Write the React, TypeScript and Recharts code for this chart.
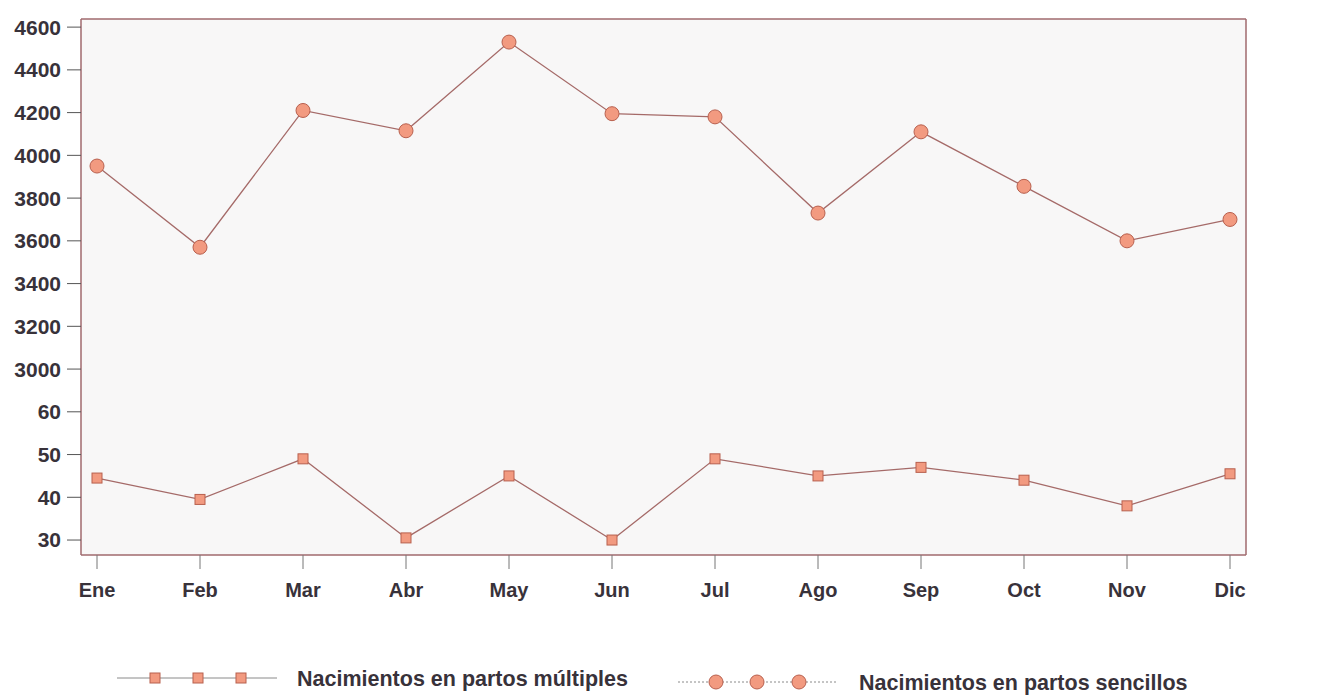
import React from 'react';
import { LineChart, Line, XAxis, YAxis, CartesianGrid, ReferenceLine } from 'recharts';

const months = ['Ene', 'Feb', 'Mar', 'Abr', 'May', 'Jun', 'Jul', 'Ago', 'Sep', 'Oct', 'Nov', 'Dic'];
const partosMultiples = [44.5, 39.5, 49, 30.5, 45, 30, 49, 45, 47, 44, 38, 45.5];
const partosSencillos = [3950, 3570, 4210, 4115, 4530, 4195, 4180, 3730, 4110, 3855, 3600, 3700];
const yTickLabels = ['30', '40', '50', '60', '3000', '3200', '3400', '3600', '3800', '4000', '4200', '4400', '4600'];

// broken axis: 30..60 (step 10) below, 3000..4600 (step 200) above, equal tick spacing
const toAxis = (v: number) => (v < 1000 ? (v - 30) / 10 : 4 + (v - 3000) / 200);

const data = months.map((m, i) => ({
  month: m,
  multiples: toAxis(partosMultiples[i]),
  sencillos: toAxis(partosSencillos[i]),
}));

const yTicks = yTickLabels.map((_, i) => i);
const Y_MAX = 12.19;

const FRAME = '#a06a6e';
const LINE = '#a56a68';
const FILL = '#f29a80';
const MSTROKE = '#b8604e';
const TEXT = '#38323a';
const FONT = '"Liberation Sans", Arial, Helvetica, sans-serif';

const SquareDot = (props: any) => {
  const { cx, cy, index } = props;
  if (cx == null || cy == null) return <g key={`s${index}`} />;
  return (
    <rect key={`s${index}`} x={cx - 5} y={cy - 5} width={10} height={10} fill={FILL} stroke={MSTROKE} strokeWidth={1} />
  );
};

export default function App() {
  const tickStyle = { fontFamily: FONT, fontWeight: 700, fontSize: 21, fill: TEXT };
  return (
    <div style={{ position: 'relative', width: 1315, height: 687 }}>
      <LineChart width={1315} height={687} data={data} margin={{ top: 11, right: 0, left: 0, bottom: 80 }}>
        <CartesianGrid horizontal={false} vertical={false} fill="#f8f7f7" stroke="none" />
        <XAxis
          dataKey="month"
          padding={{ left: 16, right: 16 }}
          height={60}
          axisLine={{ stroke: FRAME, strokeWidth: 1.5 }}
          tickLine={{ stroke: '#777' }}
          tickSize={14}
          tickMargin={14}
          tick={{ fontFamily: FONT, fontWeight: 700, fontSize: 20, fill: TEXT }}
          interval={0}
        />
        <YAxis
          yAxisId="left"
          orientation="left"
          width={73}
          domain={[-0.35, Y_MAX]}
          ticks={yTicks}
          interval={0}
          tickFormatter={(v: number) => yTickLabels[v]}
          axisLine={{ stroke: FRAME, strokeWidth: 1.5 }}
          tickLine={{ stroke: '#555' }}
          tickSize={14}
          tickMargin={6}
          tick={tickStyle}
        />
        <YAxis
          yAxisId="right"
          orientation="right"
          width={77}
          domain={[-0.35, Y_MAX]}
          ticks={yTicks}
          interval={0}
          tickFormatter={(v: number) => yTickLabels[v]}
          axisLine={{ stroke: FRAME, strokeWidth: 1.5 }}
          tickLine={{ stroke: '#555' }}
          tickSize={15}
          tickMargin={6}
          tick={tickStyle}
        />
        <ReferenceLine yAxisId="left" y={Y_MAX} stroke={FRAME} strokeWidth={1.5} />
        <Line
          yAxisId="left"
          type="linear"
          dataKey="sencillos"
          stroke={LINE}
          strokeWidth={1.3}
          dot={{ r: 7, fill: FILL, stroke: MSTROKE, strokeWidth: 1 }}
          isAnimationActive={false}
        />
        <Line
          yAxisId="left"
          type="linear"
          dataKey="multiples"
          stroke={LINE}
          strokeWidth={1.3}
          dot={SquareDot}
          isAnimationActive={false}
        />
      </LineChart>
      <svg width={1315} height={40} style={{ position: 'absolute', left: 0, top: 650 }}>
        <line x1={109} x2={269} y1={20} y2={20} stroke="#8a8a8a" strokeWidth={1} />
        {[147, 190, 233].map((x) => (
          <rect key={x} x={x - 5} y={15} width={10} height={10} fill={FILL} stroke={MSTROKE} strokeWidth={1} />
        ))}
        <text x={289} y={28} fontFamily={FONT} fontWeight={700} fontSize={21.5} fill={TEXT}>
          Nacimientos en partos múltiples
        </text>
        <line x1={670} x2={830} y1={24} y2={24} stroke="#8a8a8a" strokeWidth={1} strokeDasharray="2 2" />
        {[708, 749, 791].map((x) => (
          <circle key={x} cx={x} cy={24} r={7} fill={FILL} stroke={MSTROKE} strokeWidth={1} />
        ))}
        <text x={851} y={32} fontFamily={FONT} fontWeight={700} fontSize={21.5} fill={TEXT}>
          Nacimientos en partos sencillos
        </text>
      </svg>
    </div>
  );
}
